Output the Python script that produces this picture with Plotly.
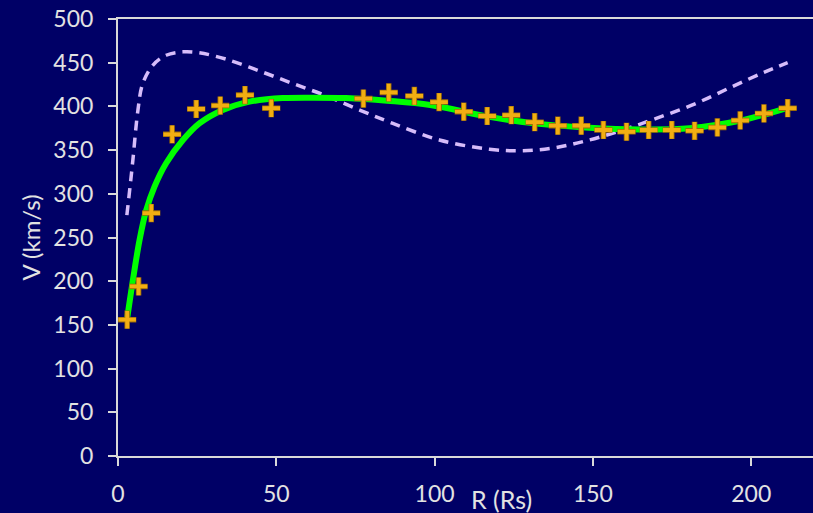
import plotly.graph_objects as go

# Observed rotation velocities
r_obs = [2.9, 6.5, 10.5, 17.1, 24.7, 32.3, 40.1, 48.4, 77.5, 85.5, 93.6, 101.4,
         109.2, 116.6, 124.2, 131.6, 138.9, 146.3, 153.3, 160.6, 167.6, 174.9,
         182.1, 189.3, 196.5, 204.0, 211.5]
v_obs = [156, 194, 278, 368, 397, 401, 413, 398, 409, 416, 412, 405,
         394, 389, 390, 382, 378, 378, 373, 371, 373, 373,
         372, 376, 384, 392, 398]

# Fitted curve (green)
r_fit = [2.8, 4.7, 6.8, 8.9, 11.5, 15.2, 20.5, 25.7, 33.1, 41.5, 52, 62, 72, 85,
         98.6, 117.3, 133, 148.9, 164.7, 180.5, 196.3, 212]
v_fit = [155, 201, 247, 281, 308, 335, 361.5, 380.6, 396, 405.4, 409.5, 410, 409.5,
         406.5, 401.6, 388, 380, 375.6, 373.7, 375, 383.6, 399]

# Model curve (dashed)
r_mod = [2.8, 3.8, 4.7, 6.3, 7.8, 11, 15.2, 20.5, 25.7, 34.2, 44.7, 55.2, 65.8,
         76.3, 86.8, 101.5, 117.3, 127.9, 138.4, 148.9, 159.4, 170, 182.6, 194.2,
         204, 211.5]
v_mod = [275.6, 308, 338.7, 395.9, 426, 447, 458.5, 462.4, 461.3, 454, 440.5, 426.2,
         412, 395.8, 380.6, 361.6, 351, 349.3, 353, 361.6, 373, 386.3, 403.5, 423,
         439, 450]

x_ticks = [0, 50, 100, 150, 200]
y_ticks = [0, 50, 100, 150, 200, 250, 300, 350, 400, 450, 500]

BG = "#000066"
AX = "#D9D9D9"
TXT = "#E2E2E2"
FONT = "Lato"

fig = go.Figure()
fig.add_trace(go.Scatter(x=r_mod, y=v_mod, mode="lines",
                         line=dict(color="#D6BCFA", width=3.5, dash="10px,7px", shape="spline"),
                         hoverinfo="skip"))
fig.add_trace(go.Scatter(x=r_fit, y=v_fit, mode="lines",
                         line=dict(color="#00FF00", width=6, shape="spline"),
                         hoverinfo="skip"))
fig.add_trace(go.Scatter(x=r_obs, y=v_obs, mode="markers",
                         marker=dict(symbol="cross-thin", size=13,
                                     line=dict(color="#9A6A08", width=5.5)),
                         hoverinfo="skip"))
fig.add_trace(go.Scatter(x=r_obs, y=v_obs, mode="markers",
                         marker=dict(symbol="cross-thin", size=12.5,
                                     line=dict(color="#F2AE12", width=3.8)),
                         hoverinfo="skip"))

fig.update_layout(
    width=813, height=513,
    paper_bgcolor=BG, plot_bgcolor=BG,
    margin=dict(l=118, r=0, t=19, b=57),
    showlegend=False,
    hovermode=False,
    font=dict(family=FONT, color=TXT, size=23),
    xaxis=dict(range=[0, 219.5], tickvals=x_ticks, showgrid=False, zeroline=False,
               showline=True, mirror=True, linecolor=AX, linewidth=2,
               ticks="outside", ticklen=8, tickwidth=2, tickcolor=AX,
               tickfont=dict(family=FONT, size=23, color=TXT),
               ticklabelstandoff=8),
    yaxis=dict(range=[0, 500], tickvals=y_ticks, showgrid=False, zeroline=False,
               showline=True, linecolor=AX, linewidth=2,
               ticks="outside", ticklen=8, tickwidth=2, tickcolor=AX,
               tickfont=dict(family=FONT, size=23, color=TXT),
               ticklabelstandoff=10),
    annotations=[
        dict(text="R (Rs)", xref="paper", yref="paper", x=(501 - 118) / 695,
             y=(456 - 499) / 437, xanchor="center", yanchor="middle",
             showarrow=False, font=dict(family=FONT, size=25, color=TXT)),
        dict(text="V (km/s)", xref="paper", yref="paper", x=(30 - 118) / 695,
             y=0.5, xanchor="center", yanchor="middle", textangle=-90,
             showarrow=False, font=dict(family=FONT, size=24, color=TXT)),
    ],
)

fig.write_html("out.html",
               config={"displayModeBar": False, "staticPlot": True},
               post_script="document.body.style.margin='0';"
                           "document.body.style.overflow='hidden';"
                           "document.body.style.background='#000066';")
